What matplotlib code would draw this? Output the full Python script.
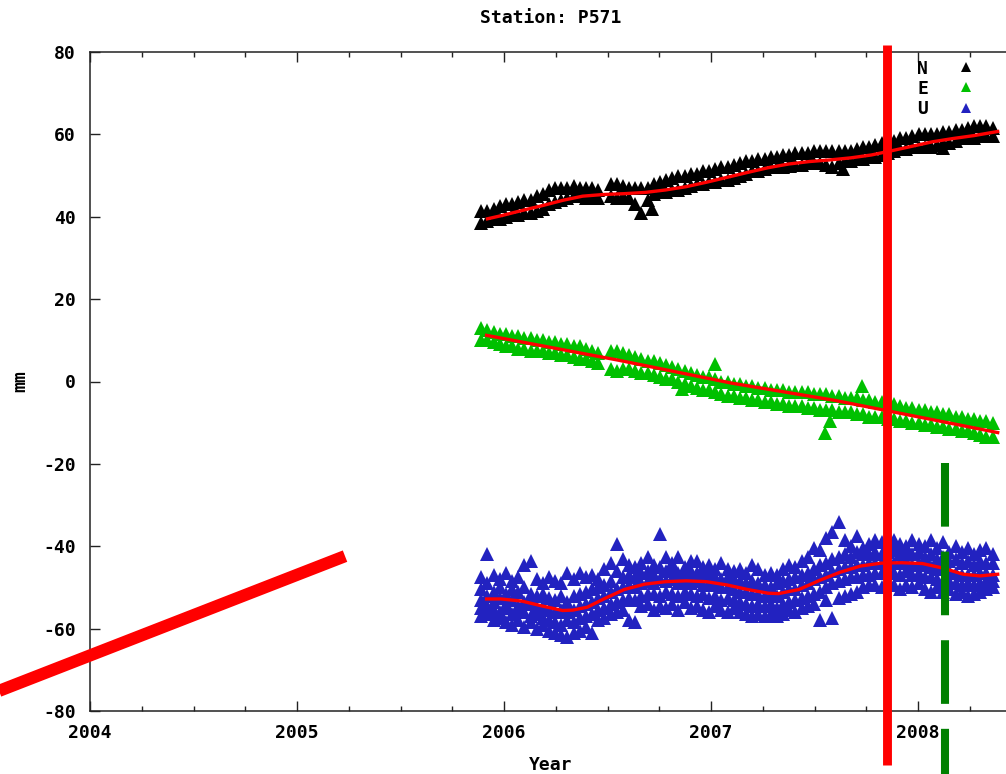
import numpy as np
import matplotlib
matplotlib.use("Agg")
import matplotlib.pyplot as plt
from matplotlib.ticker import MultipleLocator

nan = np.nan

# ---------------- data ----------------
dates = np.linspace(2005.89, 2008.36, 84)

n_hi = [41.5, 41.5, 42, 42.5, 43, 43, 43.5, 44, 44, 45,
        45.5, 46.5, 47, 47, 47, 47.5, 47, 47, 47, 46.5,
        nan, 48, 48, 47.5, 47, 47, 47, 47, 48, 48.5,
        49, 49.5, 50, 50, 50.5, 50.5, 51, 51, 51.5, 52,
        52, 52.5, 53, 53.5, 53.5, 54, 54, 54.5, 54.5, 55,
        55, 55.5, 55.5, 55.5, 56, 56, 56, 56, 56, 56,
        56, 56.5, 57, 57, 57.5, 58, 58, 58.5, 59, 59,
        59.5, 60, 60, 60, 60, 60.5, 60.5, 61, 61, 61.5,
        62, 62, 62, 61.5]
n_lo = [38.5, 39, 39.5, 39.5, 40, 40.5, 40.5, 41, 41, 41.5,
        42, 43, 43.5, 44, 44.5, 45, 45, 44.5, 44.5, 44.5,
        nan, 45, 44.5, 45, 44.5, 43, 41, 44, 45.5, 46,
        46, 46.5, 46.5, 47, 47.5, 48, 48, 48.5, 48.5, 49,
        49, 49.5, 50, 50.5, 51, 51, 51.5, 52, 52, 52,
        52.5, 52.5, 52.5, 53, 53, 53, 52.5, 52, 53, 53.5,
        53.5, 54, 54, 54.5, 54.5, 55, 55.5, 56, 56.5, 56.5,
        57, 57, 57, 57, 57.5, 58, 58, 58.5, 59, 59,
        59, 59.5, 59.5, 59.5]
n_out_t = [2006.715, 2007.38, 2007.64, 2008.06, 2008.12]
n_out_v = [42.0, 52.3, 51.7, 57.3, 56.8]

e_hi = [13, 12.5, 12, 11.5, 11.5, 11, 11, 10.5, 10.5, 10,
        10, 9.5, 9.5, 9, 9, 8.5, 8.5, 8, 7.5, 7,
        nan, 7.5, 7.5, 7, 6.5, 6, 5.5, 5, 5, 4.5,
        4, 3.5, 3, 2.5, 2, 1.5, 1, 1, 0.5, 0,
        0, -0.5, -0.5, -1, -1, -1.5, -1.5, -2, -2, -2,
        -2.5, -2.5, -2.5, -2.5, -3, -3, -3, -3.5, -3.5, -4,
        -4, -4, -4.5, -4.5, -5, -5, -5.5, -5.5, -6, -6.5,
        -6.5, -7, -7, -7.5, -7.5, -8, -8, -8.5, -8.5, -9,
        -9, -9.5, -9.5, -10]
e_lo = [10, 10, 9.5, 9, 8.5, 8.5, 8, 8, 7.5, 7.5,
        7.5, 7, 7, 6.5, 6.5, 6, 5.5, 5.5, 5, 4.5,
        nan, 3, 2.5, 3, 3, 2.5, 2, 2, 1.5, 1,
        0.5, 0.5, 0, -0.5, -1, -1.5, -2, -2, -2.5, -3,
        -3.5, -3.5, -4, -4, -4.5, -4.5, -5, -5, -5.5, -5.5,
        -6, -6, -6, -6.5, -6.5, -7, -7, -7, -7.5, -7.5,
        -7.5, -8, -8, -8.5, -8.5, -8.5, -9, -9, -9.5, -9.5,
        -10, -10, -10.5, -10.5, -11, -11, -11.5, -11.5, -12, -12,
        -12.5, -13, -13.5, -13.5]
e_out_t = [2006.86, 2007.02, 2007.55, 2007.575, 2007.73]
e_out_v = [-1.7, 4.2, -12.4, -9.5, -1.0]

u_top = [-47.5, -42, -47, -48, -46.5, -48.5, -47.5, -44.5, -43.5, -48,
         -49, -47.5, -48.5, -49, -46.5, -48, -46.5, -47.5, -47, -48,
         -45.5, -44, -39.5, -43, -44.5, -45, -44, -42.5, -44.5, -37,
         -42.5, -44, -42.5, -45, -43.5, -43.5, -45, -44.5, -45.5, -44,
         -45.5, -46, -45.5, -46.5, -44.5, -45.5, -47, -46.5, -47, -45.5,
         -44.5, -45, -43.5, -42.5, -40.5, -41, -38, -36.5, -34, -38.5,
         -40, -37.5, -40.5, -39.5, -38.5, -39, -40, -38.5, -39.5, -40,
         -38.5, -39.5, -40, -38.5, -40.5, -39, -41.5, -40, -41.5, -40.5,
         -42, -41, -40.5, -42]
u_upper = [-50.5, -49, -51, -50, -51.5, -50.5, -51, -50, -51.5, -52,
           -51.5, -52.5, -53, -52, -53.5, -52, -51.5, -51, -50.5, -50,
           -49.5, -48.5, -46, -47.5, -47, -47.5, -46.5, -46, -47, -45,
           -46, -45.5, -46.5, -47, -46, -46.5, -47, -46.5, -47.5, -48,
           -47.5, -48, -48.5, -49, -48.5, -49, -49.5, -50, -49, -48.5,
           -48, -47.5, -47, -46.5, -45.5, -44.5, -44, -43, -42.5, -42,
           -42.5, -41.5, -42, -42, -41.5, -42, -41.5, -41, -42, -41.5,
           -42, -41.5, -42.5, -42, -43, -42.5, -43.5, -43, -44, -43.5,
           -44.5, -43.5, -44, -44]
u_mid = [-53, -52, -53.5, -52.5, -54, -53, -54.5, -53.5, -54, -55,
         -54.5, -55.5, -56, -55.5, -56, -55.5, -54.5, -54, -53.5, -52.5,
         -52, -51, -50.5, -50, -49.5, -50, -49, -48.5, -49, -48,
         -48.5, -48, -49, -48.5, -49, -48.5, -49.5, -49, -49.5, -50,
         -50, -50.5, -51, -51, -51.5, -51.5, -52, -51.5, -52, -51,
         -50.5, -50.5, -49.5, -49, -48, -47.5, -47, -46, -45.5, -45,
         -45, -44.5, -44.5, -44, -44, -44, -43.5, -44, -44, -43.5,
         -44.5, -44, -44.5, -45, -45.5, -45.5, -46, -46.5, -47, -47,
         -47, -46.5, -46.5, -47]
u_lower = [-55, -54.5, -55.5, -56, -55, -56.5, -56, -56, -57, -56.5,
           -57.5, -58, -58.5, -59, -58, -58.5, -57.5, -57, -56.5, -55.5,
           -55, -54, -53.5, -53, -52.5, -53, -52, -51.5, -51.5, -52,
           -51, -51.5, -52, -51, -51.5, -52, -51.5, -52.5, -52, -53,
           -52.5, -53, -53.5, -54, -54.5, -54, -54.5, -54, -55, -54,
           -53.5, -53, -52.5, -52, -51.5, -51, -50, -49, -48.5, -48,
           -47.5, -47.5, -47, -47, -46.5, -46.5, -46, -46.5, -47, -46,
           -47, -46.5, -47.5, -47.5, -48, -48.5, -48.5, -49, -49.5, -49,
           -49.5, -49, -48.5, -48.5]
u_bottom = [-57, -56.5, -58, -57.5, -58.5, -59, -58, -59.5, -58.5, -60,
            -59, -60.5, -61, -61.5, -62, -61, -60.5, -59.5, -61, -58,
            -57.5, -56.5, -56, -55.5, -58, -58.5, -54.5, -54, -55.5, -54.5,
            -55, -54, -55.5, -53.5, -55, -54.5, -55.5, -56, -54.5, -55.5,
            -56, -55, -56, -56.5, -57, -56.5, -57, -56.5, -57, -56.5,
            -55.5, -56, -55, -54.5, -54, -58, -53, -57.5, -52.5, -52,
            -51.5, -51, -50, -49.5, -49.5, -50, -49, -49.5, -50.5, -49.5,
            -50, -49, -50.5, -51, -50, -51, -50.5, -51.5, -51, -52,
            -51.5, -51, -50.5, -50]

# fitted (red) curves
n_fit_t = [2005.92, 2005.99, 2006.085, 2006.185, 2006.285, 2006.38, 2006.48,
           2006.58, 2006.68, 2006.78, 2006.88, 2006.98, 2007.08, 2007.18,
           2007.275, 2007.375, 2007.475, 2007.575, 2007.675, 2007.775,
           2007.87, 2007.97, 2008.07, 2008.17, 2008.27, 2008.385]
n_fit_v = [39.5, 40.3, 41.5, 42.7, 44.0, 45.0, 45.4, 45.6, 45.9, 46.5, 47.3,
           48.4, 49.6, 50.8, 51.9, 52.8, 53.4, 53.8, 54.3, 55.0, 56.0, 57.1,
           58.2, 59.0, 59.7, 60.7]
e_fit_t = [2005.916, 2006.55, 2007.10, 2007.60, 2008.385]
e_fit_v = [11.2, 5.2, -0.4, -4.6, -12.4]
u_fit_t = [2005.916, 2005.985, 2006.085, 2006.184, 2006.283, 2006.333, 2006.402,
           2006.482, 2006.581, 2006.68, 2006.78, 2006.879, 2006.978, 2007.078,
           2007.177, 2007.276, 2007.326, 2007.425, 2007.524, 2007.624, 2007.723,
           2007.822, 2007.921, 2008.021, 2008.12, 2008.219, 2008.299, 2008.385]
u_fit_v = [-52.8, -52.8, -53.3, -54.5, -55.6, -55.5, -54.8, -52.8, -50.5, -49.2,
           -48.6, -48.4, -48.6, -49.4, -50.5, -51.4, -51.5, -50.5, -48.3, -46.3,
           -44.8, -44.1, -44.0, -44.2, -45.3, -46.8, -47.2, -46.8]

series_names = ["N", "E", "U"]
series_colors = ["#000000", "#00c000", "#2222c0"]

x_ticks = [2004, 2005, 2006, 2007, 2008]
y_ticks = [-80, -60, -40, -20, 0, 20, 40, 60, 80]

# annotation overlays (data coordinates)
red_vline_x, red_vline_y = [2007.85, 2007.85], [81.7, -93.1]
green_vline_x, green_vline_y = [2008.13, 2008.13], [-19.8, -96.0]
red_diag_x, red_diag_y = [2003.50, 2005.232], [-76.3, -42.4]

# ---------------- figure ----------------
plt.rcParams['font.family'] = ['DejaVu Sans Mono', 'DejaVu Sans']
plt.rcParams['font.weight'] = 'bold'

W, H = 1006, 774
fig = plt.figure(figsize=(W / 100, H / 100), dpi=100)
XMIN, XMAX = 2004.0, 2008.5
PX_PER_YEAR = 207.0
ax = fig.add_axes([90 / W, (H - 711) / H, (XMAX - XMIN) * PX_PER_YEAR / W, (711 - 52) / H])
ax.set_xlim(XMIN, XMAX)
ax.set_ylim(-80, 80)

FS = 13
ms = 9.5
mk = dict(ls='none', marker='^', ms=ms, mew=0)
hN, = ax.plot(dates, n_hi, color=series_colors[0], **mk)
ax.plot(dates, n_lo, color=series_colors[0], **mk)
ax.plot(n_out_t, n_out_v, color=series_colors[0], **mk)
hE, = ax.plot(dates, e_hi, color=series_colors[1], **mk)
ax.plot(dates, e_lo, color=series_colors[1], **mk)
ax.plot(e_out_t, e_out_v, color=series_colors[1], **mk)
hU = None
for arr in [u_top, u_upper, u_mid, u_lower, u_bottom]:
    h, = ax.plot(dates, arr, color=series_colors[2], **mk)
    if hU is None:
        hU = h

for ft, fv in [(n_fit_t, n_fit_v), (e_fit_t, e_fit_v), (u_fit_t, u_fit_v)]:
    ax.plot(ft, fv, color='#ff0000', lw=2.4, zorder=5)

ax.set_xticks(x_ticks)
ax.set_xticklabels([str(v) for v in x_ticks])
ax.xaxis.set_minor_locator(MultipleLocator(0.25))
ax.set_yticks(y_ticks)
ax.set_yticklabels([str(v) for v in y_ticks])
ax.tick_params(axis='both', which='major', direction='in', length=7, width=1.0,
               top=True, right=False, labelsize=FS, color='#222222')
ax.tick_params(axis='x', which='major', pad=9)
ax.tick_params(axis='y', which='major', pad=10)
ax.tick_params(axis='x', which='minor', direction='in', length=3.5, width=1.0,
               top=True, color='#222222')
for sp in ax.spines.values():
    sp.set_linewidth(1.1)
    sp.set_color('#222222')

fig.text(551 / W, 1 - 18 / H, 'Station: P571', ha='center', va='center', fontsize=FS)
fig.text(551 / W, 1 - 765 / H, 'Year', ha='center', va='center', fontsize=FS)
fig.text(20 / W, 1 - 381 / H, 'mm', ha='center', va='center', rotation=90, fontsize=FS)

leg = ax.legend([hN, hE, hU], series_names, loc='upper right',
                bbox_to_anchor=(986 / W, 1 - 47 / H), bbox_transform=fig.transFigure,
                markerfirst=False, frameon=False, handlelength=0.8,
                handletextpad=1.7, labelspacing=0.12, fontsize=FS, borderpad=0.2)
for h in leg.legend_handles:
    h.set_markersize(7.5)

# overlays
ax.plot(red_diag_x, red_diag_y, color='#ff0000', lw=8.8, solid_capstyle='butt',
        clip_on=False, zorder=10)
ax.plot(red_vline_x, red_vline_y, color='#ff0000', lw=6.4, solid_capstyle='butt',
        clip_on=False, zorder=10)
ax.plot(green_vline_x, green_vline_y, color='#008000', lw=5.8, dashes=(7.9, 3.1),
        dash_capstyle='butt', clip_on=False, zorder=10)

fig.savefig('out.png', dpi=100)
